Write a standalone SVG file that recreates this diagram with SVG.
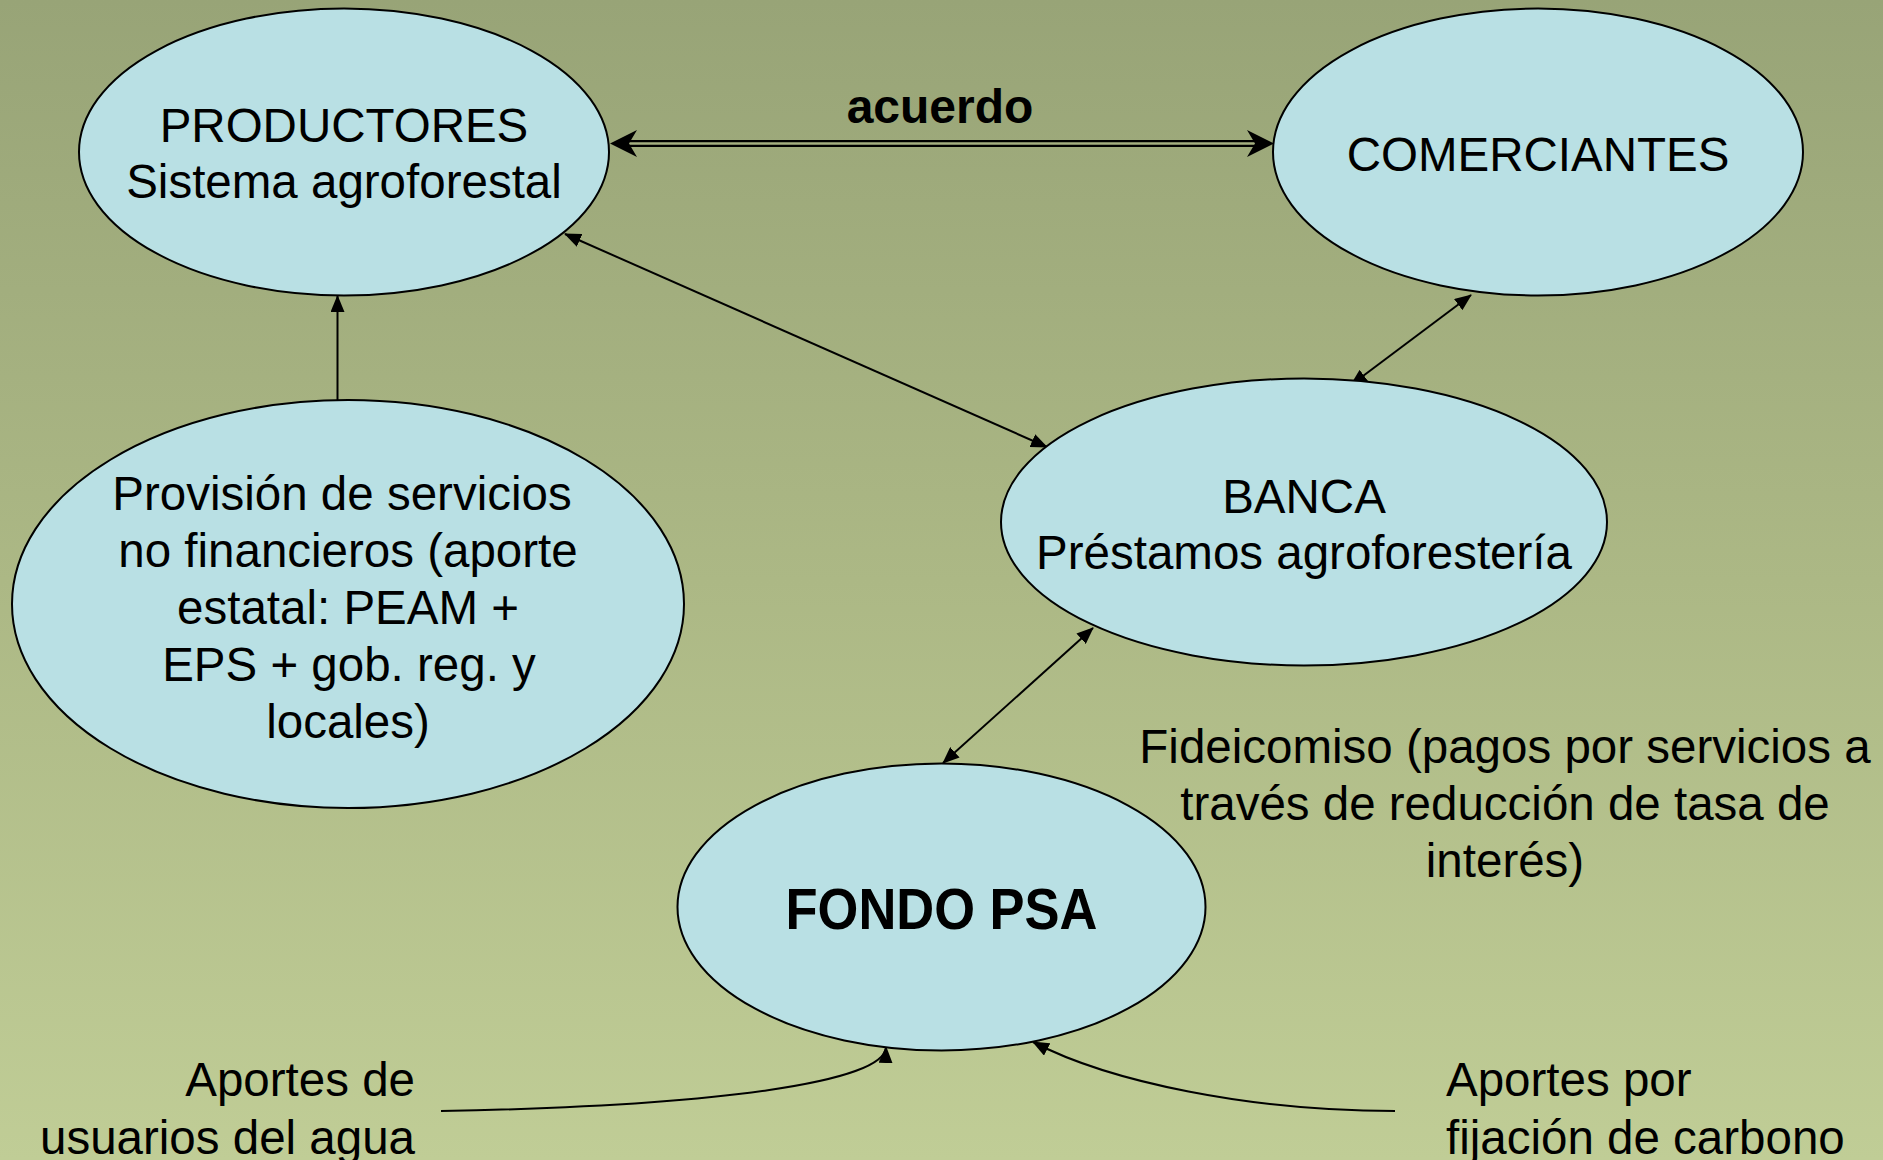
<svg xmlns="http://www.w3.org/2000/svg" width="1883" height="1160" viewBox="0 0 1883 1160">
<defs>
<linearGradient id="bg" x1="0" y1="0" x2="0" y2="1">
<stop offset="0" stop-color="#98a477"/>
<stop offset="0.5" stop-color="#acb885"/>
<stop offset="1" stop-color="#c0cd96"/>
</linearGradient>
<marker id="ah" markerUnits="userSpaceOnUse" markerWidth="17" markerHeight="14" refX="16" refY="7" orient="auto-start-reverse" viewBox="0 0 17 14">
<path d="M0,0 L17,7 L0,14 z" fill="#000"/>
</marker>
<style>
.node{fill:#b9e0e4;stroke:#000;stroke-width:2}
.t{font-family:"Liberation Sans",Arial,sans-serif;font-size:47.5px;fill:#000;text-anchor:middle}
.b{font-weight:bold}
.c{fill:none;stroke:#000;stroke-width:2}
</style>
</defs>
<rect x="0" y="0" width="1883" height="1160" fill="url(#bg)"/>

<g id="connectors">
<line class="c" x1="565" y1="234" x2="1047" y2="447" marker-start="url(#ah)" marker-end="url(#ah)"/>
<line class="c" x1="1471" y1="295" x2="1351" y2="385" marker-start="url(#ah)" marker-end="url(#ah)"/>
<line class="c" x1="1093" y1="628" x2="943" y2="763" marker-start="url(#ah)" marker-end="url(#ah)"/>
<line class="c" x1="337.5" y1="400" x2="337.5" y2="296" marker-end="url(#ah)"/>
<path class="c" d="M441,1111 C720,1106 885,1082 886,1047" marker-end="url(#ah)"/>
<path class="c" d="M1395,1111 C1250,1111 1110,1082 1033,1042" marker-end="url(#ah)"/>
<g id="acuerdo-arrow">
<line x1="622" y1="143.5" x2="1262" y2="143.5" stroke="#000" stroke-width="7"/>
<line x1="620" y1="143.5" x2="1264" y2="143.5" stroke="#a4af80" stroke-width="2.5"/>
<path d="M610,143.5 L637,130 L629,143.5 L637,157 z" fill="#000"/>
<path d="M1274,143.5 L1247,130 L1255,143.5 L1247,157 z" fill="#000"/>
</g>
<text class="t b" x="940" y="123" style="font-size:48px">acuerdo</text>
</g>

<g id="productores">
<ellipse class="node" cx="344" cy="152" rx="265" ry="143.5"/>
<text class="t" x="344" y="142">PRODUCTORES</text>
<text class="t" x="344" y="198">Sistema agroforestal</text>
</g>

<g id="comerciantes">
<ellipse class="node" cx="1538" cy="152" rx="265" ry="143.5"/>
<text class="t" x="1538" y="171">COMERCIANTES</text>
</g>

<g id="banca">
<ellipse class="node" cx="1304" cy="522" rx="303" ry="143.5"/>
<text class="t" x="1304" y="513">BANCA</text>
<text class="t" x="1304" y="569">Préstamos agroforestería</text>
</g>

<g id="provision">
<ellipse class="node" cx="348" cy="604" rx="336" ry="204"/>
<text class="t" x="342" y="510">Provisión de servicios</text>
<text class="t" x="348" y="567">no financieros (aporte</text>
<text class="t" x="348" y="624">estatal: PEAM +</text>
<text class="t" x="349" y="681">EPS + gob. reg. y</text>
<text class="t" x="348" y="738">locales)</text>
</g>

<g id="fondo">
<ellipse class="node" cx="941.5" cy="907" rx="264" ry="143.5"/>
<text class="t b" x="941.5" y="929" style="font-size:57px" textLength="312" lengthAdjust="spacingAndGlyphs">FONDO PSA</text>
</g>

<g id="labels">
<text class="t" x="1505" y="763">Fideicomiso (pagos por servicios a</text>
<text class="t" x="1505" y="820">través de reducción de tasa de</text>
<text class="t" x="1505" y="877">interés)</text>
<text class="t" x="415" y="1096" style="text-anchor:end">Aportes de</text>
<text class="t" x="415" y="1154" style="text-anchor:end">usuarios del agua</text>
<text class="t" x="1446" y="1096" style="text-anchor:start">Aportes por</text>
<text class="t" x="1446" y="1154" style="text-anchor:start">fijación de carbono</text>
</g>
</svg>
